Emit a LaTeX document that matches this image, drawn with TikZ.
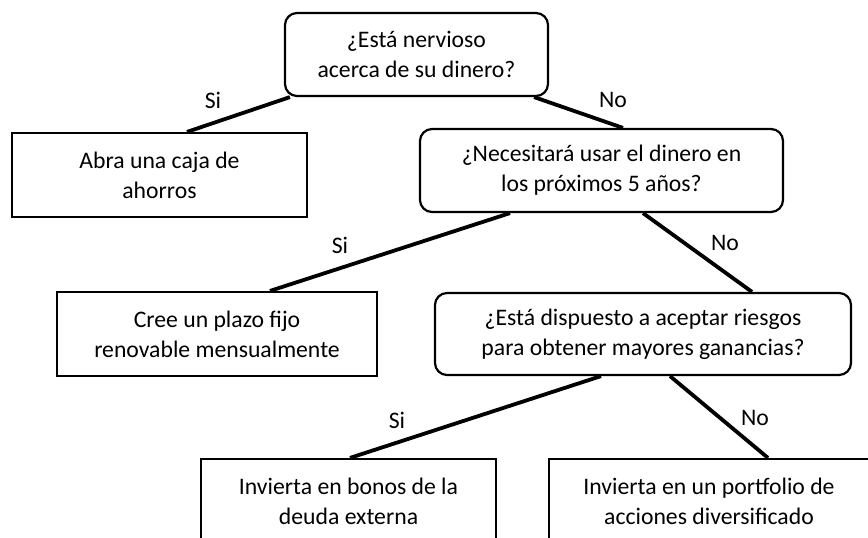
\documentclass[tikz,border=0pt]{standalone}
\usepackage{fontspec}
\setmainfont{Carlito}
\usetikzlibrary{calc}
\begin{document}
\begin{tikzpicture}[x=1pt,y=-1pt,
  every node/.append style={font=\fontsize{23.7}{30}\selectfont},
  qbox/.style={draw,line width=2.2pt,rounded corners=12pt,fill=white,align=center,inner sep=0pt},
  abox/.style={draw,line width=2.2pt,fill=white,align=center,inner sep=0pt},
  conn/.style={line width=3.8pt},
  lbl/.style={inner sep=0pt}]
\useasboundingbox (0,0) rectangle (868,538);
\fill[white] (0,0) rectangle (868,538);
\node[qbox,minimum width=263pt,minimum height=83pt] (top) at (416.5,54.5) {¿Está nervioso\\acerca de su dinero?};
\node[abox,minimum width=295pt,minimum height=84pt] (abra) at (159.5,175) {Abra una caja de\\ahorros};
\node[qbox,minimum width=363pt,minimum height=83pt] (nec) at (601.5,170.5) {¿Necesitará usar el dinero en\\los próximos 5 años?};
\node[abox,minimum width=320pt,minimum height=84pt] (cree) at (217,334) {Cree un plazo fijo\\renovable mensualmente};
\node[qbox,minimum width=416pt,minimum height=82pt] (disp) at (643,334) {¿Está dispuesto a aceptar riesgos\\para obtener mayores ganancias?};
\node[abox,minimum width=295pt,minimum height=84pt] (bonos) at (348.5,501) {Invierta en bonos de la\\deuda externa};
\node[abox,minimum width=320pt,minimum height=84pt] (port) at (709,501) {Invierta en un portfolio de\\acciones diversificado};
\draw[conn] ($(top.south west)+(6,0)$) -- ($(abra.north)+(27.5,0)$);
\draw[conn] ($(top.south east)+(-15,0)$) -- ($(nec.north)+(21.5,0)$);
\draw[conn] ($(nec.south)+(-91.5,0)$) -- ($(cree.north)+(53,0)$);
\draw[conn] ($(nec.south)+(41.5,0)$) -- ($(disp.north)+(109,0)$);
\draw[conn] ($(disp.south)+(-42,0)$) -- ($(bonos.north)+(1.5,0)$);
\draw[conn] ($(disp.south)+(27,0)$) -- ($(port.north)+(59,0)$);
\node[lbl] (l1) at (213,100) {Si};
\node[lbl] (l2) at (613,100) {No};
\node[lbl] (l3) at (340,245) {Si};
\node[lbl] (l4) at (725,243) {No};
\node[lbl] (l5) at (397,420) {Si};
\node[lbl] (l6) at (755,418) {No};
\end{tikzpicture}
\end{document}
